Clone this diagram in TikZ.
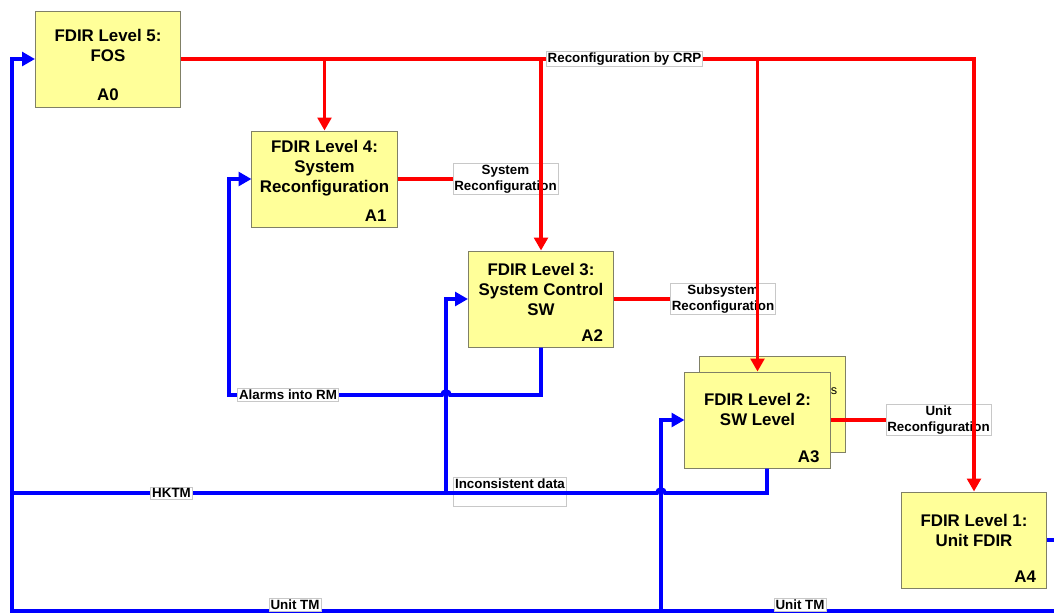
\documentclass[tikz,border=0pt]{standalone}
\usepackage{fontspec}
\setmainfont{Liberation Sans}
\usepackage{tikz}
\usetikzlibrary{positioning, arrows.meta, calc}

\definecolor{idefyellow}{HTML}{FFFF99}
\definecolor{idefedge}{HTML}{808066}
\definecolor{tagedge}{HTML}{C8C8C8}

\begin{document}
\begin{tikzpicture}[
    x=0.025cm, y=-0.025cm,
    activity/.style={draw=idefedge, fill=idefyellow, line width=0.7pt, minimum width=3.625cm, minimum height=2.4cm, inner sep=0pt},
    title/.style={align=center, font=\fontsize{12}{14.2}\selectfont\bfseries},
    boxid/.style={anchor=base east, font=\fontsize{12}{14.2}\selectfont\bfseries},
    tag/.style={draw=tagedge, fill=white, line width=0.5pt, align=center, inner xsep=1pt, inner ysep=1pt, font=\fontsize{9.5}{11.4}\selectfont\bfseries},
    control/.style={red, line width=2.2pt},
    feedback/.style={blue, line width=2.6pt},
    flowtip/.style={-{Triangle[length=0.32cm, width=0.34cm]}},
]
    \useasboundingbox (0,0) rectangle (1054,614);

    % Level 5
    \node[activity] (a0) at (108,59) {};
    \node[title] (a0t) at ($(a0.north)+(0,35)$) {FDIR Level 5:\\FOS};
    \node[title, anchor=base] (a0id) at ($(a0.south)+(0,-7)$) {A0};

    % Level 4
    \node[activity] (a1) at (324.5,179) {};
    \node[title] (a1t) at ($(a1.north)+(0,38)$) {FDIR Level 4:\\System\\Reconfiguration};
    \node[boxid] (a1id) at ($(a1.south east)+(-6,-6)$) {A1};

    % Level 3
    \node[activity] (a2) at (541,299) {};
    \node[title] (a2t) at ($(a2.north)+(0,39)$) {FDIR Level 3:\\System Control\\SW};
    \node[boxid] (a2id) at ($(a2.south east)+(-6,-6)$) {A2};

    % Level 2 (stacked)
    \node[activity] (a3back) at (772.5,404.5) {};
    \node[font=\fontsize{9}{10}\selectfont] (a3s) at (834,391) {s};
    \node[activity] (a3) at (757.5,420) {};
    \node[title] (a3t) at ($(a3.north)+(0,38)$) {FDIR Level 2:\\SW Level};
    \node[boxid] (a3id) at ($(a3.south east)+(-6,-6)$) {A3};

    % Level 1
    \node[activity] (a4) at (974,540) {};
    \node[title] (a4t) at ($(a4.north)+(0,39)$) {FDIR Level 1:\\Unit FDIR};
    \node[boxid] (a4id) at ($(a4.south east)+(-6,-6)$) {A4};

    % Reconfiguration outputs
    \node[tag, right=1.375cm of a1] (sysrec) {System\\Reconfiguration};
    \node[tag, right=1.4cm of a2] (subrec) {Subsystem\\Reconfiguration};
    \node[tag, right=1.375cm of a3] (unitrec) {Unit\\Reconfiguration};
    \draw[control] (a1.east) -- (sysrec.west);
    \draw[control] (a2.east) -- (subrec.west);
    \draw[control] (a3.east) -- (unitrec.west);

    % Reconfiguration by CRP
    \draw[control, flowtip] (a0.east) -| (a4.north);
    \draw[control, flowtip] (a0.east -| a1.north) -- (a1.north);
    \draw[control, flowtip] (a0.east -| a2.north) -- (a2.north);
    \draw[control, flowtip] (a0.east -| a3.north) -- (a3.north);
    \node[tag] (crp) at (624.5,59) {Reconfiguration by CRP};

    % Unit TM loop
    \coordinate (rim) at (1064,611);
    \coordinate (corner) at (12,611);
    \coordinate (utmbase) at (661,611);
    \draw[feedback, flowtip] (a4.east) -| (rim) -- (corner) |- (a0.west);
    \draw[feedback, flowtip] (utmbase) |- (a3.west);
    \node[tag] (utm1) at (295,605) {Unit TM};
    \node[tag] (utm2) at (800,605) {Unit TM};

    % HKTM and inconsistent data
    \coordinate (a3out) at ($(a3.south)+(9.5,0)$);
    \coordinate (hop1) at (661,493);
    \coordinate (hkleft) at (12,493);
    \coordinate (incbase) at (446,493);
    \node[tag] (incons) at (510,492) {Inconsistent data\\\mbox{}};
    \draw[feedback] (a3out) |- ($(hop1)+(4,0)$) arc[start angle=0, end angle=-180, radius=4] -- (hkleft);
    \draw[feedback, flowtip] (incbase) |- (a2.west);
    \node[tag] (hktm) at (171.5,493) {HKTM};

    % Alarms
    \coordinate (hop2) at (446,395);
    \coordinate (alcorner) at (229,395);
    \draw[feedback, flowtip] (a2.south) |- ($(hop2)+(4,0)$) arc[start angle=0, end angle=-180, radius=4] -- (alcorner) |- (a1.west);
    \node[tag] (alarms) at (288,395) {Alarms into RM};

\end{tikzpicture}
\end{document}
